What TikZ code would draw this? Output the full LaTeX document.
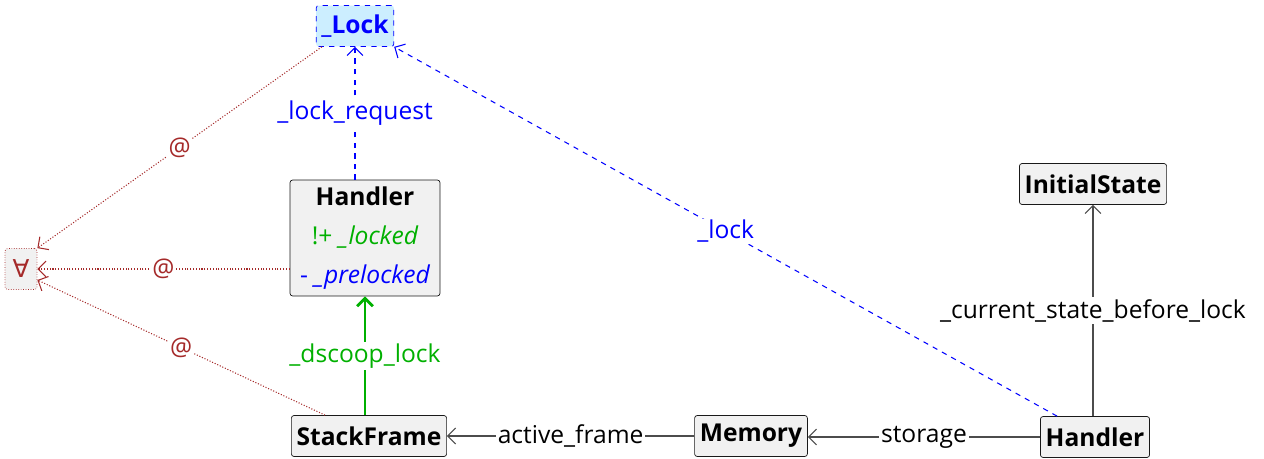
\documentclass[tikz,border=0pt]{standalone}
\usepackage{fontspec}
\setmainfont{Open Sans}
\newfontfamily\symfont{DejaVu Sans}
\usetikzlibrary{arrows.meta}

\definecolor{boxfill}{RGB}{241,241,241}
\definecolor{lockfill}{RGB}{204,238,255}
\definecolor{atbrown}{RGB}{165,42,42}
\definecolor{lockgreen}{RGB}{0,176,0}

\begin{document}
\begin{tikzpicture}[
            x = 0.02cm, y = -0.02cm, % one unit per pixel
            > = {Straight Barb[length=4.5pt,width=9pt]}, % open arrow head
            font = \fontsize{14}{17}\selectfont,
            cls/.style = {draw=black!90, fill=boxfill, rounded corners=1.5pt,
                          font=\fontsize{14}{17}\selectfont\bfseries,
                          inner sep=3pt, minimum height=0.82cm},
            lbl/.style = {fill=white, inner sep=1pt},
            link/.style = {draw=black!70, semithick},
            atlink/.style = {draw=atbrown, densely dotted, semithick},
            locklink/.style = {draw=blue, dashed, semithick}
        ]
\useasboundingbox (0,0) rectangle (1264,459);

\node[cls, draw=blue, dashed, fill=lockfill, text=blue] (Lock) at (355,26) {\_Lock};
\node[cls, draw=atbrown, densely dotted, text=atbrown, font=\symfont\fontsize{14}{17}\selectfont,
      minimum width=0.64cm] (All) at (21,269) {∀};
\node[cls, align=center, inner sep=2pt, minimum width=3cm, minimum height=2.32cm] (H) at (365,238)
    {Handler\\[5pt]
     {\mdseries\color{lockgreen}!+ \itshape \_locked}\\[5pt]
     {\mdseries\color{blue}- \itshape \_prelocked}};
\node[cls] (SF) at (369,436) {StackFrame};
\node[cls] (M) at (751,436) {Memory};
\node[cls] (H2) at (1095,437) {Handler};
\node[cls] (IS) at (1093,184) {InitialState};

% lock edges
\draw[locklink, ->] (Lock.south |- H.north) -- node[lbl, text=blue] {\_lock\_request} (Lock.south);
\draw[locklink, ->] ([xshift=0.34cm]H2.north west) -- node[lbl, text=blue] {\_lock} (Lock.south east);

% green edge
\draw[draw=lockgreen, line width=1.6pt, ->] (SF.north -| H.south) -- node[lbl, text=lockgreen] {\_dscoop\_lock} (H.south);

% plain edges
\draw[link, ->] (M) -- node[lbl] {active\_frame} (SF);
\draw[link, ->] (H2.west) -- node[lbl] {storage} (H2.west -| M.east);
\draw[link, ->] (IS.south |- H2.north) -- node[lbl] {\_current\_state\_before\_lock} (IS.south);

% @ edges
\draw[atlink, ->] ([xshift=0.12cm]Lock.south west) -- node[lbl, text=atbrown] {@} (All.north east);
\draw[atlink, ->] (H.west |- All.east) -- node[lbl, text=atbrown] {@} (All.east);
\draw[atlink, ->] ([xshift=0.68cm]SF.north west) -- node[lbl, text=atbrown] {@} ([yshift=-0.22cm]All.east);
\end{tikzpicture}
\end{document}
